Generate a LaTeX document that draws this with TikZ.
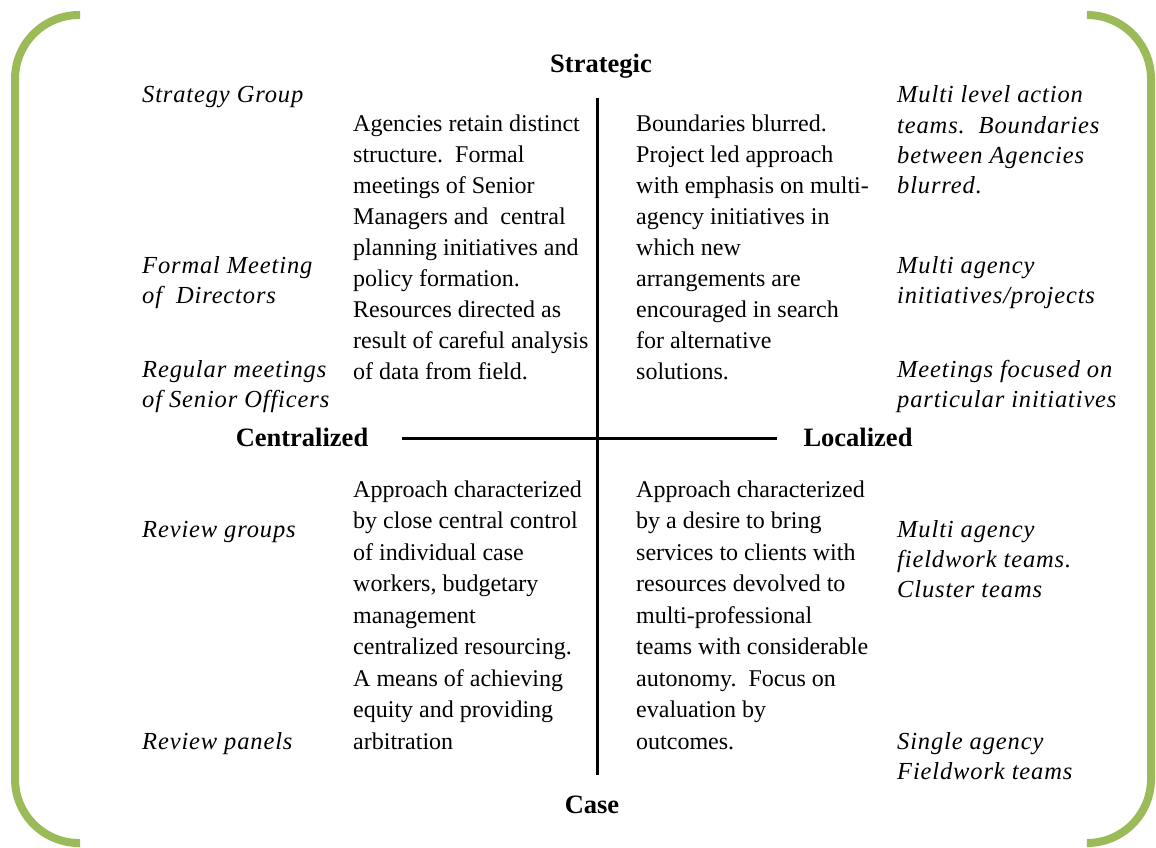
\documentclass[tikz,border=0pt]{standalone}
\usepackage{fontspec}
\setmainfont{Liberation Serif}
\newfontfamily\notefont[LetterSpace=3.5]{Liberation Serif}
\usetikzlibrary{positioning}
\definecolor{bracketgreen}{RGB}{155,187,89}

\begin{document}
\begin{tikzpicture}[x=1pt,y=-1pt,
	axis label/.style={font=\fontsize{26.5}{30}\selectfont\bfseries,inner sep=0pt,anchor=base},
	quad text/.style={font=\fontsize{24}{31}\selectfont,align=left,anchor=base west,inner sep=0pt},
	low quad text/.style={quad text,font=\fontsize{24}{31.5}\selectfont},
	side note/.style={font=\fontsize{24.5}{30}\selectfont\notefont\itshape,align=left,anchor=base west,inner sep=0pt},
	axis line/.style={line width=3pt},
	bracket/.style={line width=8pt,bracketgreen,rounded corners=64pt}]
	
	\useasboundingbox (0,0) rectangle (1156,848);
	
	% green brackets
	\draw[bracket] (80,15) -- (15,15) -- (15,843) -- (80,843);
	\draw[bracket] (1090,15) -- (1151,15) -- (1151,843) -- (1090,843);
	
	% axes
	\node[axis label] (strategic) at (601,73) {Strategic};
	\node[axis label] (case) at (592,813) {Case};
	\node[axis label] (centralized) at (302,446) {Centralized};
	\node[axis label] (localized) at (858,446) {Localized};
	
	\coordinate (vtop) at (597,98);
	\coordinate (vbot) at (597,775);
	\coordinate (hleft) at (402,438);
	\coordinate (hright) at (777,438);
	\draw[axis line] (vtop) -- (vbot);
	\draw[axis line] (hleft) -- (hright);
	
	% quadrants (placed at the baseline of the last line)
	\node[quad text] (tl) at (353,379) {Agencies retain distinct\\structure.\ \ Formal\\meetings of Senior\\Managers and\ \ central\\planning initiatives and\\policy formation.\\Resources directed as\\result of careful analysis\\of data from field.};
	\node[quad text] (tr) at (636,379) {Boundaries blurred.\\Project led approach\\with emphasis on multi-\\agency initiatives in\\which new\\arrangements are\\encouraged in search\\for alternative\\solutions.};
	\node[low quad text] (bl) at (353,749) {Approach characterized\\by close central control\\of individual case\\workers, budgetary\\management\\centralized resourcing.\\A means of achieving\\equity and providing\\arbitration};
	\node[low quad text] (br) at (636,749) {Approach characterized\\by a desire to bring\\services to clients with\\resources devolved to\\multi-professional\\teams with considerable\\autonomy.\ \ Focus on\\evaluation by\\outcomes.};
	
	% left notes
	\node[side note] (strategy) at (142,103) {Strategy Group};
	\node[side note] (directors) at (142,303) {Formal Meeting\\of\ \ Directors};
	\node[side note] (officers) at (142,407) {Regular meetings\\of Senior Officers};
	\node[side note] (groups) at (142,537) {Review groups};
	\node[side note] (panels) at (142,749) {Review panels};
	
	% right notes
	\node[side note] (actionteams) at (897,193) {Multi level action\\teams.\ \ Boundaries\\between Agencies\\blurred.};
	\node[side note] (projects) at (897,303) {Multi agency\\initiatives/projects};
	\node[side note] (focused) at (897,407) {Meetings focused on\\particular initiatives};
	\node[side note] (fieldwork) at (897,597) {Multi agency\\fieldwork teams.\\Cluster teams};
	\node[side note] (single) at (897,779) {Single agency\\Fieldwork teams};
\end{tikzpicture}
\end{document}
